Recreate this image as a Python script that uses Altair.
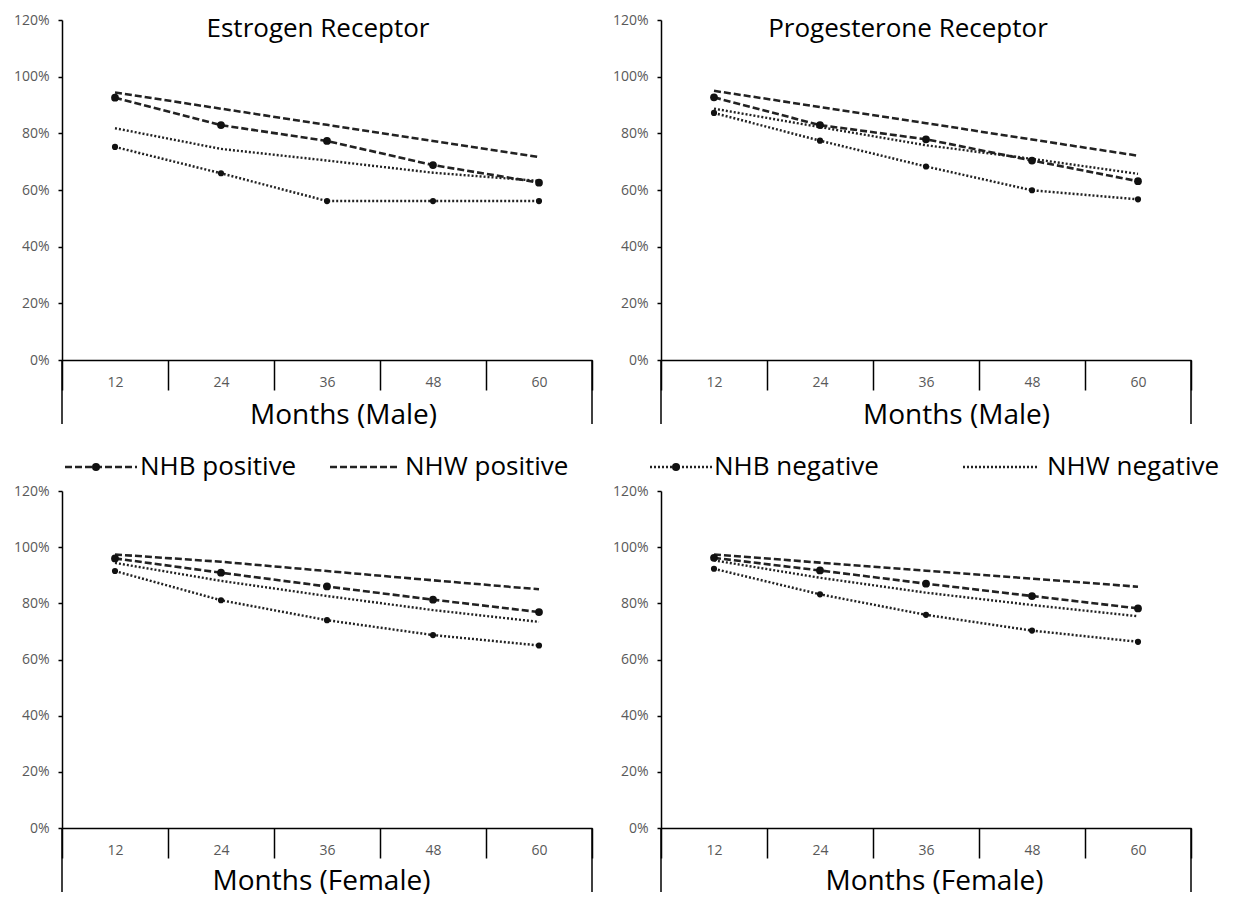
import altair as alt
import pandas as pd

months = ["12", "24", "36", "48", "60"]
series_names = ["NHB positive", "NHW positive", "NHB negative", "NHW negative"]

# Estrogen receptor, male (%)
er_male_nhb_pos = [92.6, 82.9, 77.3, 68.8, 62.6]
er_male_nhw_pos = [94.4, 88.7, 83.0, 77.3, 71.6]
er_male_nhb_neg = [75.2, 65.9, 56.1, 56.1, 56.1]
er_male_nhw_neg = [81.8, 74.5, 70.4, 66.1, 63.2]

# Progesterone receptor, male (%)
pr_male_nhb_pos = [92.7, 82.9, 77.9, 70.4, 63.1]
pr_male_nhw_pos = [95.0, 89.3, 83.6, 77.8, 72.1]
pr_male_nhb_neg = [87.2, 77.4, 68.3, 59.9, 56.7]
pr_male_nhw_neg = [88.7, 82.2, 75.8, 71.0, 65.7]

# Estrogen receptor, female (%)
er_female_nhb_pos = [96.0, 90.9, 86.0, 81.3, 76.9]
er_female_nhw_pos = [97.4, 94.8, 91.5, 88.2, 85.0]
er_female_nhb_neg = [91.5, 81.1, 74.0, 68.7, 65.0]
er_female_nhw_neg = [94.4, 88.0, 82.6, 77.6, 73.4]

# Progesterone receptor, female (%)
pr_female_nhb_pos = [96.2, 91.7, 87.0, 82.6, 78.2]
pr_female_nhw_pos = [97.4, 94.5, 91.6, 88.8, 85.9]
pr_female_nhb_neg = [92.3, 83.2, 75.9, 70.3, 66.3]
pr_female_nhw_neg = [95.3, 89.1, 83.8, 79.4, 75.4]

y_ticks = [0, 0.2, 0.4, 0.6, 0.8, 1.0, 1.2]

W = 530
FONT = "Open Sans"
LINE = "#222222"

dash_scale = alt.Scale(domain=series_names, range=[[7, 3], [7, 3], [2, 2], [2, 2]])
width_scale = alt.Scale(domain=series_names, range=[2.6, 2.4, 2.0, 1.8])


def panel(values, title, xtitle, title_dx, xtitle_x, H, xtitle_pad):
    rows = []
    for s, vals in zip(series_names, values):
        for m, v in zip(months, vals):
            rows.append({"month": m, "series": s, "value": v / 100})
    df = pd.DataFrame(rows)
    base = alt.Chart(df)
    x_axis = alt.X(
        "month:O", sort=months, bandPosition=0.5,
        scale=alt.Scale(type="band", paddingInner=0, paddingOuter=0),
        axis=alt.Axis(
            title=xtitle, tickBand="extent", tickSize=30, tickColor="black",
            tickWidth=1.5, domainColor="black", domainWidth=1.5, labelAngle=0,
            labelPadding=-15, labelColor="#595959", labelFontSize=14,
            labelFont=FONT, titleFont=FONT, titleFontSize=28,
            titleFontWeight="normal", titleColor="black", titlePadding=xtitle_pad,
            titleX=xtitle_x, titleAlign="center",
        ),
    )
    x_plain = alt.X("month:O", sort=months, bandPosition=0.5)
    y_axis = alt.Y(
        "value:Q", scale=alt.Scale(domain=[0, 1.2], nice=False),
        axis=alt.Axis(
            values=y_ticks, format=".0%", title=None, grid=False,
            domainColor="black", domainWidth=1.5, tickColor="black",
            tickWidth=1.5, tickSize=4, labelColor="#595959", labelFontSize=14,
            labelFont=FONT, labelPadding=9, minExtent=49, maxExtent=49,
        ),
    )
    lines = base.mark_line(color=LINE).encode(
        x=x_axis, y=y_axis,
        strokeDash=alt.StrokeDash("series:N", scale=dash_scale, legend=None),
        strokeWidth=alt.StrokeWidth("series:N", scale=width_scale, legend=None),
        detail="series:N",
    )
    pts_pos = base.transform_filter(alt.datum.series == "NHB positive").mark_point(
        filled=True, color="#111111", opacity=1, size=60
    ).encode(x=x_plain, y="value:Q")
    pts_neg = base.transform_filter(alt.datum.series == "NHB negative").mark_point(
        filled=True, color="#111111", opacity=1, size=38
    ).encode(x=x_plain, y="value:Q")
    edge_df = pd.DataFrame({"edge": ["left"]})
    left_edge = alt.Chart(edge_df).mark_rule(color="black", strokeWidth=1.5).encode(
        x=alt.value(0), y=alt.value(H), y2=alt.value(H + 64)
    )
    right_edge = alt.Chart(edge_df).mark_rule(color="black", strokeWidth=1.5).encode(
        x=alt.value(W), y=alt.value(H), y2=alt.value(H + 64)
    )
    layers = [lines, pts_pos, pts_neg, left_edge, right_edge]
    props = dict(width=W, height=H)
    if title:
        props["title"] = alt.Title(
            title, fontSize=26, font=FONT, fontWeight="normal", color="black",
            offset=-29, dx=title_dx, anchor="middle",
        )
    return alt.layer(*layers).properties(**props)


def legend_strip(entries, rng):
    # entries: (label, symbol length, marker offset or None, text offset)
    labels = [e[0] for e in entries]
    df = pd.DataFrame({"label": labels})
    xs = alt.X("label:N", sort=labels,
               scale=alt.Scale(type="point", range=rng, padding=0), axis=None)
    yv = alt.value(37)
    layers = []
    for label, sym_len, marker_dx, text_dx in entries:
        sub = alt.Chart(df).transform_filter(alt.datum.label == label)
        layers.append(sub.mark_rule(x2Offset=sym_len, color=LINE).encode(
            x=xs, x2="label:N", y=yv,
            strokeDash=alt.StrokeDash("label:N", scale=dash_scale, legend=None),
            strokeWidth=alt.StrokeWidth("label:N", scale=width_scale, legend=None),
        ))
        if marker_dx is not None:
            layers.append(sub.mark_point(
                filled=True, color="#111111", opacity=1, size=65, xOffset=marker_dx
            ).encode(x=xs, y=yv))
        layers.append(sub.mark_text(
            align="left", baseline="middle", dx=text_dx, fontSize=26, font=FONT,
            color="black"
        ).encode(x=xs, y=yv, text="label:N"))
    return alt.layer(*layers).properties(width=W, height=54)


er_m = panel([er_male_nhb_pos, er_male_nhw_pos, er_male_nhb_neg, er_male_nhw_neg],
             "Estrogen Receptor", "Months (Male)", -9, 281, 340, 11)
pr_m = panel([pr_male_nhb_pos, pr_male_nhw_pos, pr_male_nhb_neg, pr_male_nhw_neg],
             "Progesterone Receptor", "Months (Male)", -18, 295, 340, 11)
er_f = panel([er_female_nhb_pos, er_female_nhw_pos, er_female_nhb_neg, er_female_nhw_neg],
             None, "Months (Female)", 0, 259, 337, 9)
pr_f = panel([pr_female_nhb_pos, pr_female_nhw_pos, pr_female_nhb_neg, pr_female_nhw_neg],
             None, "Months (Female)", 0, 273, 337, 9)

leg_l = legend_strip([("NHB positive", 72, 31, 75), ("NHW positive", 70, None, 75)], [3, 268])
leg_r = legend_strip([("NHB negative", 62, 26, 64), ("NHW negative", 75, None, 84)], [39, 352])

top = alt.hconcat(er_m, pr_m, spacing=19)
mid = alt.hconcat(leg_l, leg_r, spacing=19)
bot = alt.hconcat(er_f, pr_f, spacing=19)

chart = alt.vconcat(top, mid, bot, spacing=0).configure(
    background="white", font=FONT
).configure_view(stroke="transparent", strokeWidth=0)

chart.save("out.html", embed_options={"renderer": "svg", "actions": False})
